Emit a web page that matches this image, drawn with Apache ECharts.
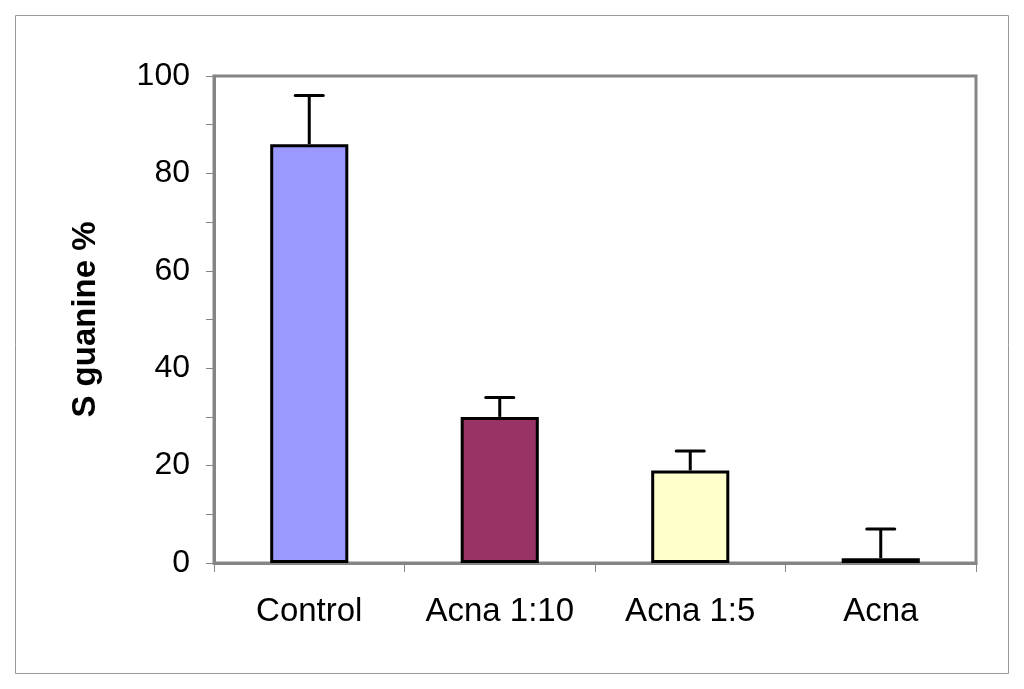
<!DOCTYPE html>
<html><head><meta charset="utf-8">
<script src="https://cdn.jsdelivr.net/npm/echarts@6/dist/echarts.min.js"></script>
<style>html,body{margin:0;padding:0;background:#fff}#c{width:1024px;height:689px}</style>
</head><body><div id="c"></div>
<script>
const categories = ['Control', 'Acna 1:10', 'Acna 1:5', 'Acna'];
const values = [86, 30, 19, 1];
const errorTops = [96, 34, 23, 7];
const barColors = ['#9999FF', '#993366', '#FFFFCC', '#A6D4D4'];
const yTicks = [0, 20, 40, 60, 80, 100];

const chart = echarts.init(document.getElementById('c'));
chart.setOption({
  animation: false,
  graphic: [{
    type: 'rect', shape: {x: 15.5, y: 15.5, width: 993, height: 658},
    style: {fill: 'none', stroke: '#999', lineWidth: 1}, z: -1
  }],
  grid: {left: 214, right: 48, top: 76, bottom: 126, show: true, borderColor: '#858585', borderWidth: 3, backgroundColor: '#fff'},
  xAxis: {
    type: 'category', data: categories,
    axisLine: {lineStyle: {color: '#858585', width: 3}},
    axisTick: {show: true, interval: 0, length: 9, lineStyle: {color: '#858585', width: 1}, alignWithLabel: false},
    axisLabel: {interval: 0, hideOverlap: false, fontFamily: 'Liberation Sans, Arial', fontSize: 33, color: '#000', margin: 32}
  },
  yAxis: {
    type: 'value', min: yTicks[0], max: yTicks[yTicks.length - 1], interval: 20,
    name: 'S guanine %', nameLocation: 'middle', nameGap: 112,
    nameTextStyle: {fontFamily: 'Liberation Sans, Arial', fontSize: 33, fontWeight: 'bold', color: '#000'},
    axisLine: {show: true, lineStyle: {color: '#858585', width: 3}},
    axisTick: {show: true, length: 8, lineStyle: {color: '#858585', width: 1}},
    minorTick: {show: true, splitNumber: 2, length: 8, lineStyle: {color: '#858585', width: 1}},
    splitLine: {show: false},
    axisLabel: {fontFamily: 'Liberation Sans, Arial', fontSize: 32, color: '#000', margin: 24}
  },
  series: [{
    type: 'bar', barWidth: '41%',
    data: values.map((v, i) => ({value: v, itemStyle: {color: barColors[i]}})),
    itemStyle: {borderColor: '#000', borderWidth: 3}
  }, {
    type: 'custom',
    data: values.map((v, i) => [i, v, errorTops[i]]),
    renderItem: function (params, api) {
      const base = api.coord([api.value(0), api.value(1)]);
      const top = api.coord([api.value(0), api.value(2)]);
      const half = 14;
      return {
        type: 'group',
        children: [
          {type: 'line', shape: {x1: base[0], y1: base[1], x2: top[0], y2: top[1]}, style: {stroke: '#000', lineWidth: 3}},
          {type: 'line', shape: {x1: top[0] - half, y1: top[1], x2: top[0] + half, y2: top[1]}, style: {stroke: '#000', lineWidth: 3, lineCap: 'round'}}
        ]
      };
    },
    z: 3
  }]
});
</script></body></html>
